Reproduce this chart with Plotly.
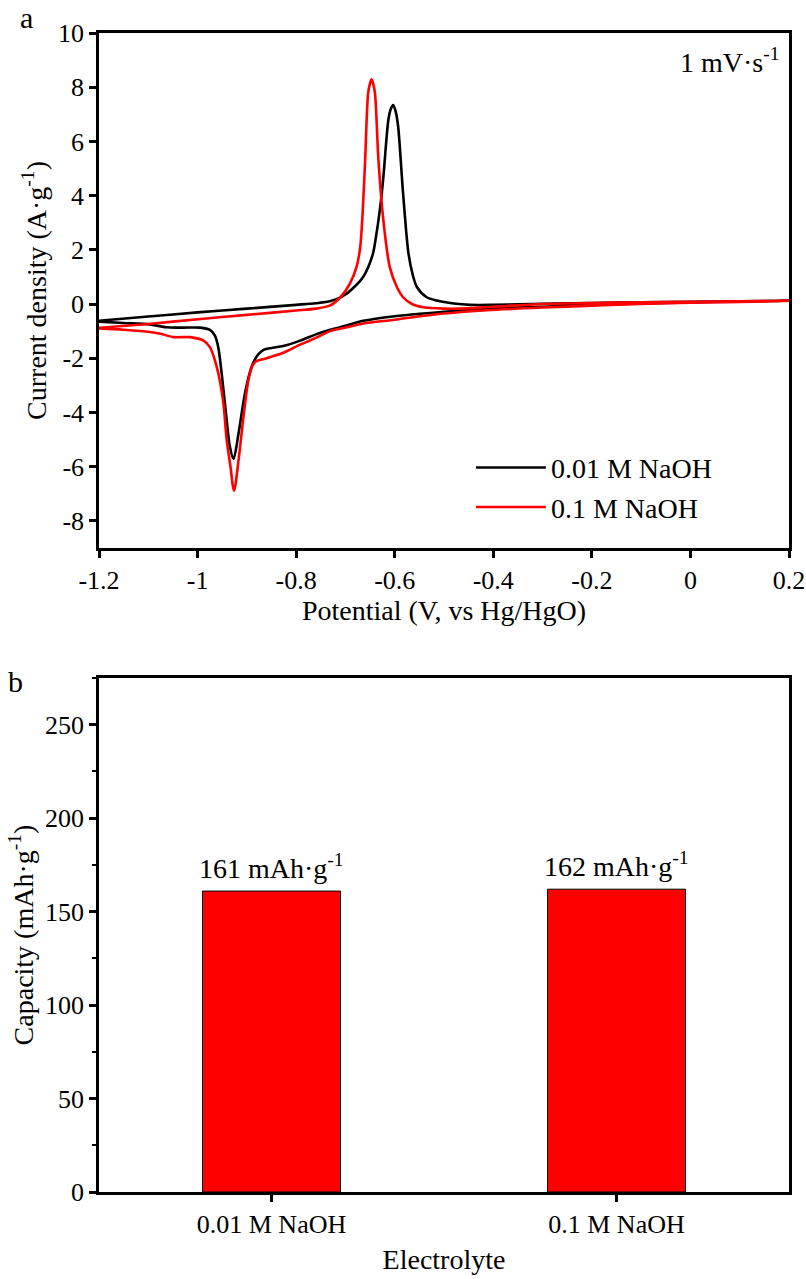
import plotly.graph_objects as go
from plotly.subplots import make_subplots

# ---- Panel a: CV data (potential V vs Hg/HgO, current density A/g) ----
v_black = [-1.2, -1.1, -1.0, -0.9, -0.8, -0.76, -0.73, -0.70, -0.664, -0.645, -0.637, -0.628, -0.623,
           -0.613, -0.608, -0.603, -0.598, -0.593, -0.583, -0.572, -0.563, -0.555, -0.535, -0.515,
           -0.48, -0.447, -0.4, -0.3, -0.2, -0.1, 0.0, 0.1, 0.2,
           0.1, 0.0, -0.1, -0.2, -0.3, -0.413, -0.5, -0.549, -0.6, -0.664, -0.7, -0.731, -0.76,
           -0.792, -0.826, -0.85, -0.865, -0.876, -0.884, -0.892, -0.904, -0.917, -0.927, -0.935,
           -0.942, -0.951, -0.958, -0.965, -0.975, -0.995, -1.03, -1.063, -1.097, -1.15, -1.2]
i_black = [-0.62, -0.46, -0.31, -0.17, -0.03, 0.03, 0.11, 0.35, 1.0, 1.8, 2.6, 3.8, 4.69,
           6.78, 7.2, 7.34, 7.1, 6.54, 4.08, 1.86, 1.05, 0.63, 0.25, 0.13,
           0.02, -0.03, -0.03, 0.01, 0.04, 0.06, 0.08, 0.10, 0.12,
           0.09, 0.06, 0.02, -0.03, -0.10, -0.18, -0.29, -0.36, -0.45, -0.62, -0.80, -0.95, -1.12,
           -1.35, -1.55, -1.62, -1.68, -1.84, -2.05, -2.40, -3.31, -4.79, -5.72, -5.2,
           -4.1, -2.58, -1.6, -1.16, -0.95, -0.87, -0.87, -0.86, -0.75, -0.70, -0.65]

v_red = [-1.2, -1.1, -1.0, -0.9, -0.8, -0.76, -0.731, -0.71, -0.691, -0.677, -0.670, -0.665, -0.660,
         -0.654, -0.650, -0.647, -0.644, -0.640, -0.633, -0.623, -0.610, -0.595, -0.583, -0.565,
         -0.542, -0.5, -0.45, -0.4, -0.3, -0.2, -0.1, 0.0, 0.1, 0.2,
         0.1, 0.0, -0.1, -0.2, -0.3, -0.413, -0.5, -0.549, -0.6, -0.664, -0.7, -0.731, -0.76,
         -0.792, -0.826, -0.86, -0.88, -0.888, -0.897, -0.907, -0.917, -0.926, -0.934, -0.941,
         -0.948, -0.961, -0.975, -0.988, -1.015, -1.049, -1.075, -1.097, -1.15, -1.2]
i_red = [-0.88, -0.74, -0.56, -0.40, -0.24, -0.17, -0.05, 0.25, 0.75, 1.4, 2.1, 3.4, 5.31,
         7.77, 8.15, 8.29, 8.15, 7.77, 5.31, 3.09, 1.36, 0.6, 0.25, 0.0,
         -0.12, -0.17, -0.16, -0.10, 0.0, 0.04, 0.06, 0.08, 0.10, 0.12,
         0.08, 0.05, 0.0, -0.06, -0.13, -0.23, -0.35, -0.45, -0.58, -0.72, -0.87, -1.0, -1.25,
         -1.5, -1.8, -2.0, -2.1, -2.25, -2.82, -4.18, -5.78, -6.89, -5.9, -5.0,
         -3.6, -2.33, -1.59, -1.35, -1.22, -1.22, -1.1, -1.03, -0.95, -0.90]

# ---- Panel b: capacity ----
electrolytes = ["0.01 M NaOH", "0.1 M NaOH"]
capacity = [161, 162]
cap_labels = ["161 mAh·g<sup>-1</sup>", "162 mAh·g<sup>-1</sup>"]

x_ticks = [-1.2, -1.0, -0.8, -0.6, -0.4, -0.2, 0.0, 0.2]
x_ticktext = ["-1.2", "-1", "-0.8", "-0.6", "-0.4", "-0.2", "0", "0.2"]
y_ticks = [-8, -6, -4, -2, 0, 2, 4, 6, 8, 10]
y_ticktext = ["-8", "-6", "-4", "-2", "0", "2", "4", "6", "8", "10"]

FONT = "Liberation Serif"

fig = make_subplots(rows=2, cols=1)
fig.add_trace(go.Scatter(x=v_black, y=i_black, mode="lines", name="0.01 M NaOH",
                         line=dict(color="black", width=2.6, shape="spline", smoothing=0.8)),
              row=1, col=1)
fig.add_trace(go.Scatter(x=v_red, y=i_red, mode="lines", name="0.1 M NaOH",
                         line=dict(color="#ff0000", width=2.6, shape="spline", smoothing=0.8)),
              row=1, col=1)
fig.add_trace(go.Bar(x=electrolytes, y=capacity, width=0.4, showlegend=False,
                     marker=dict(color="#ff0000", line=dict(color="black", width=1))),
              row=2, col=1)
for cat, val, lab in zip(electrolytes, capacity, cap_labels):
    fig.add_annotation(x=cat, y=val, text=lab, xref="x2", yref="y2", showarrow=False,
                       xanchor="center", yanchor="bottom", yshift=5,
                       font=dict(family=FONT, size=28, color="black"))

axis_common = dict(showline=True, linecolor="black", linewidth=2.5, mirror=True,
                   ticks="outside", ticklen=7, tickwidth=2.5, tickcolor="black",
                   showgrid=False, zeroline=False, automargin=False)
tick26 = dict(family=FONT, size=26, color="black")
title28 = dict(family=FONT, size=28, color="black")

fig.update_xaxes(domain=[0, 1], range=[-1.2, 0.2], tickvals=x_ticks, ticktext=x_ticktext,
                 tickfont=tick26,
                 title=dict(text="Potential (V, vs Hg/HgO)", standoff=0, font=title28),
                 row=1, col=1, **axis_common)
fig.update_yaxes(domain=[0.5557, 1], range=[-9, 10], tickvals=y_ticks, ticktext=y_ticktext,
                 tickfont=tick26,
                 title=dict(text="Current density (A·g<sup>-1</sup>)", standoff=4, font=title28),
                 row=1, col=1, **axis_common)
fig.update_xaxes(domain=[0, 1], range=[-0.5, 1.5],
                 tickfont=dict(family=FONT, size=26, color="black"),
                 title=dict(text="Electrolyte", standoff=12, font=title28),
                 row=2, col=1, **axis_common)
fig.update_yaxes(domain=[0, 0.4435], range=[0, 275], tick0=0, dtick=50,
                 tickfont=tick26,
                 minor=dict(ticks="outside", ticklen=4, tickwidth=2, tickcolor="black", dtick=25),
                 title=dict(text="Capacity (mAh·g<sup>-1</sup>)", standoff=4, font=title28),
                 row=2, col=1, **axis_common)

fig.add_annotation(text="1 mV·s<sup>-1</sup>", xref="paper", yref="paper",
                   x=0.99, y=0.993, xanchor="right", yanchor="top", showarrow=False,
                   font=dict(family=FONT, size=28, color="black"))
fig.add_annotation(text="a", xref="paper", yref="paper", x=-0.118, y=1.029,
                   xanchor="left", yanchor="top", showarrow=False,
                   font=dict(family=FONT, size=30, color="black"))
fig.add_annotation(text="b", xref="paper", yref="paper", x=-0.135, y=0.456,
                   xanchor="left", yanchor="top", showarrow=False,
                   font=dict(family=FONT, size=30, color="black"))

fig.update_layout(
    width=806, height=1279,
    margin=dict(l=99, r=17, t=33, b=87, autoexpand=False),
    paper_bgcolor="white", plot_bgcolor="white",
    font=dict(family=FONT, size=26, color="black"),
    showlegend=True,
    legend=dict(x=0.539, y=0.608, xanchor="left", yanchor="middle",
                bgcolor="rgba(0,0,0,0)", itemwidth=70, tracegroupgap=0,
                font=dict(family=FONT, size=28, color="black")),
)

fig.write_html("out.html")
